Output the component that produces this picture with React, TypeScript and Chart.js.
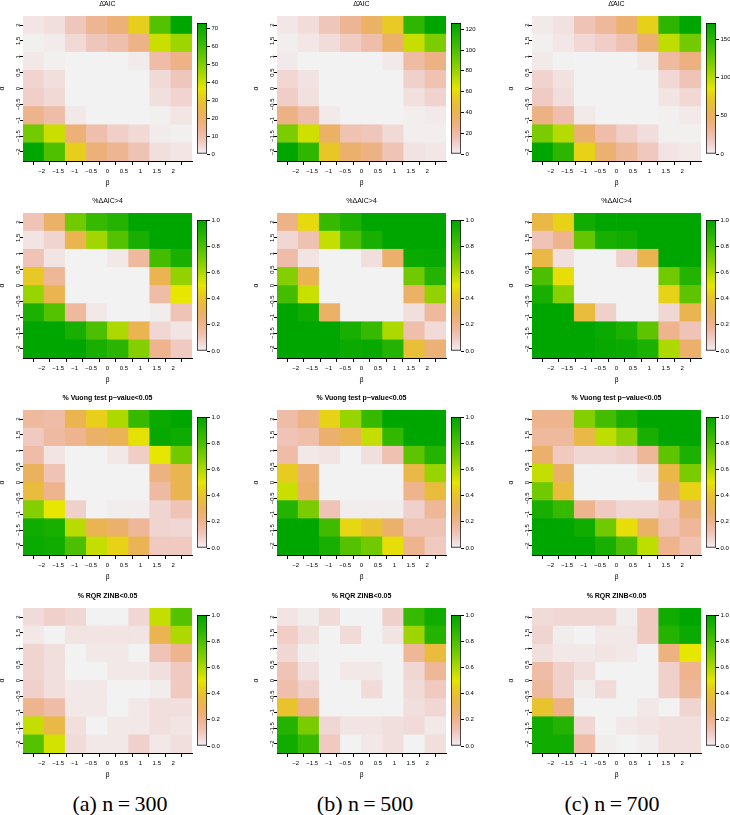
import React, { useEffect, useRef } from "react";
import { Chart, registerables } from "chart.js";
Chart.register(...registerables);

// ---------- data ----------
const betaTicks = [-2, -1.5, -1, -0.5, 0, 0.5, 1, 1.5, 2];
const betaTickLabels = ["−2", "−1.5", "−1", "−0.5", "0", "0.5", "1", "1.5", "2"];
const alphaTicks = [-2, -1.5, -1, -0.5, 0, 0.5, 1, 1.5, 2];
const alphaTickLabels = ["−2", "−1.5", "−1", "−0.5", "0", "0.5", "1", "1.5", "2"];
const cellColumns = ["c1", "c2", "c3", "c4", "c5", "c6", "c7", "c8"];

const rowTitles = ["Δ\u0304AIC", "%ΔAIC>4", "% Vuong test p−value<0.05", "% RQR ZINB<0.05"];
const captions = ["(a) n\u2009=\u2009300", "(b) n\u2009=\u2009500", "(c) n\u2009=\u2009700"];

const aicTicks300 = [0, 10, 20, 30, 40, 50, 60, 70];
const aicTicks500 = [0, 20, 40, 60, 80, 100, 120];
const aicTicks700 = [0, 50, 100, 150];
const aicMax = [73, 126, 171];
const propTicks = [0, 0.2, 0.4, 0.6, 0.8, 1];
const propTickLabels = ["0.0", "0.2", "0.4", "0.6", "0.8", "1.0"];

// matrices: first row = top (α = 2), columns left→right (β = −2 … 2)
const aic300 = [
  [2, 3, 8, 14, 18, 32, 57, 73],
  [0.5, 1, 4, 8, 10, 16, 40, 46],
  [1.5, 0.5, 0, 0, 0, 1, 11, 16],
  [5, 3, 0, 0, 0, 0, 4, 8],
  [6, 4, 0, 0, 0, 0, 3, 5],
  [15, 11, 1.5, 0, 0, 0, 0.5, 2],
  [52, 40, 18, 10, 6, 4, 1, 0.5],
  [73, 58, 32, 18, 14, 9, 3, 2],
];
const aic500 = [
  [3, 6, 14, 24, 36, 53, 110, 126],
  [1, 3, 6, 12, 18, 35, 70, 88],
  [2, 0, 0, 0, 0, 2, 20, 28],
  [8, 4, 0, 0, 0, 0, 10, 16],
  [11, 5, 0, 0, 0, 0, 5, 9],
  [28, 18, 2, 0, 0, 0, 1, 2],
  [88, 68, 36, 16, 14, 7, 1, 1],
  [126, 110, 52, 34, 28, 15, 4, 3],
];
const aic700 = [
  [3, 6, 20, 30, 45, 76, 150, 171],
  [1, 4, 10, 15, 22, 45, 97, 122],
  [3, 0.5, 0, 0, 0, 3, 28, 40],
  [12, 6, 0, 0, 0, 0, 10, 20],
  [16, 8, 0, 0, 0, 0, 5, 10],
  [38, 24, 3, 0, 0, 0, 1, 3],
  [120, 100, 45, 25, 14, 8, 1, 1],
  [171, 150, 77, 45, 30, 18, 5, 3],
];
const pct300 = [
  [0.12, 0.28, 0.72, 0.85, 0.9, 1, 1, 1],
  [0.03, 0.07, 0.33, 0.62, 0.78, 0.93, 1, 1],
  [0.12, 0.03, 0, 0, 0.02, 0.17, 0.82, 0.93],
  [0.42, 0.18, 0, 0, 0, 0, 0.33, 0.65],
  [0.64, 0.33, 0, 0, 0, 0, 0.15, 0.5],
  [0.92, 0.78, 0.17, 0.02, 0, 0, 0.01, 0.12],
  [1, 1, 0.93, 0.8, 0.6, 0.33, 0.06, 0.03],
  [1, 1, 1, 0.93, 0.88, 0.68, 0.2, 0.1],
];
const pct500 = [
  [0.22, 0.47, 0.85, 0.92, 1, 1, 1, 1],
  [0.06, 0.13, 0.56, 0.8, 0.93, 1, 1, 1],
  [0.15, 0.03, 0, 0, 0.04, 0.27, 0.97, 0.98],
  [0.68, 0.33, 0, 0, 0, 0, 0.72, 0.9],
  [0.82, 0.55, 0, 0, 0, 0, 0.28, 0.65],
  [1, 0.96, 0.28, 0, 0, 0, 0.04, 0.17],
  [1, 1, 1, 0.93, 0.85, 0.6, 0.14, 0.05],
  [1, 1, 1, 0.97, 0.98, 0.9, 0.38, 0.25],
];
const pct700 = [
  [0.35, 0.45, 0.95, 1, 1, 1, 1, 1],
  [0.12, 0.2, 0.75, 0.93, 0.95, 1, 1, 1],
  [0.35, 0.04, 0, 0, 0.08, 0.33, 1, 1],
  [0.8, 0.48, 0, 0, 0, 0, 0.72, 0.9],
  [0.93, 0.67, 0, 0, 0, 0, 0.45, 0.76],
  [1, 1, 0.37, 0.08, 0, 0, 0.06, 0.33],
  [1, 1, 1, 0.97, 0.92, 0.76, 0.2, 0.12],
  [1, 1, 1, 0.98, 0.97, 0.92, 0.6, 0.27],
];
const vu300 = [
  [0.17, 0.15, 0.33, 0.44, 0.6, 0.85, 0.97, 1],
  [0.1, 0.16, 0.2, 0.28, 0.32, 0.49, 0.98, 0.96],
  [0.15, 0.03, 0, 0, 0.02, 0.09, 0.5, 0.72],
  [0.3, 0.12, 0, 0, 0, 0, 0.23, 0.33],
  [0.37, 0.2, 0, 0, 0, 0, 0.16, 0.33],
  [0.68, 0.5, 0.08, 0, 0.01, 0.01, 0.07, 0.12],
  [0.95, 0.93, 0.58, 0.33, 0.27, 0.18, 0.07, 0.06],
  [0.97, 0.95, 0.8, 0.56, 0.45, 0.32, 0.1, 0.1],
];
const vu500 = [
  [0.15, 0.22, 0.45, 0.64, 0.85, 1, 1, 1],
  [0.12, 0.14, 0.27, 0.33, 0.56, 0.86, 1, 1],
  [0.15, 0.02, 0.03, 0, 0.04, 0.13, 0.76, 0.9],
  [0.43, 0.25, 0, 0, 0, 0, 0.35, 0.64],
  [0.55, 0.27, 0, 0, 0, 0, 0.2, 0.37],
  [0.9, 0.7, 0.12, 0.01, 0.01, 0.01, 0.08, 0.18],
  [1, 1, 0.83, 0.46, 0.4, 0.27, 0.12, 0.12],
  [1, 1, 0.93, 0.78, 0.72, 0.48, 0.2, 0.1],
];
const vu700 = [
  [0.2, 0.2, 0.68, 0.82, 0.93, 1, 1, 1],
  [0.17, 0.17, 0.35, 0.57, 0.67, 0.93, 1, 1],
  [0.27, 0.1, 0.06, 0.06, 0.08, 0.18, 0.76, 0.92],
  [0.56, 0.28, 0, 0, 0, 0.02, 0.35, 0.7],
  [0.72, 0.37, 0, 0, 0, 0, 0.27, 0.45],
  [0.93, 0.85, 0.2, 0.1, 0.06, 0.06, 0.1, 0.25],
  [1, 1, 0.95, 0.72, 0.48, 0.28, 0.12, 0.18],
  [1, 1, 1, 0.93, 0.8, 0.57, 0.2, 0.13],
];
const rqr300 = [
  [0.05, 0.08, 0.06, 0, 0, 0.06, 0.56, 0.78],
  [0.02, 0, 0.03, 0.03, 0.03, 0.03, 0.33, 0.6],
  [0.07, 0.04, 0, 0.02, 0.02, 0, 0.12, 0.2],
  [0.07, 0.04, 0, 0, 0.02, 0.02, 0.04, 0.1],
  [0.08, 0.04, 0.02, 0.02, 0, 0, 0.01, 0.1],
  [0.2, 0.15, 0.02, 0.02, 0, 0.02, 0.04, 0.04],
  [0.56, 0.35, 0.04, 0, 0.02, 0.02, 0.04, 0.03],
  [0.78, 0.53, 0.05, 0.02, 0.02, 0.08, 0.02, 0.04],
];
const rqr500 = [
  [0.03, 0.01, 0.05, 0, 0, 0.08, 0.85, 0.95],
  [0.09, 0.04, 0, 0.05, 0, 0.03, 0.63, 0.9],
  [0.06, 0.01, 0, 0, 0, 0, 0.18, 0.37],
  [0.12, 0.04, 0, 0.02, 0.02, 0, 0.06, 0.18],
  [0.14, 0.08, 0, 0, 0.05, 0, 0.05, 0.1],
  [0.4, 0.2, 0, 0, 0, 0, 0.04, 0.06],
  [0.9, 0.7, 0.06, 0.03, 0.03, 0.04, 0.05, 0.02],
  [0.95, 0.85, 0.1, 0, 0.02, 0.04, 0, 0.04],
];
const rqr700 = [
  [0.05, 0.06, 0.06, 0.06, 0.01, 0.1, 0.95, 1],
  [0.07, 0.01, 0, 0.02, 0.02, 0.1, 0.9, 0.97],
  [0.04, 0.02, 0.02, 0.03, 0.02, 0, 0.23, 0.5],
  [0.15, 0.08, 0.04, 0, 0, 0, 0.08, 0.2],
  [0.17, 0.08, 0.01, 0.05, 0, 0, 0.08, 0.18],
  [0.4, 0.22, 0, 0, 0, 0.02, 0, 0.07],
  [0.95, 0.9, 0.06, 0, 0.02, 0.03, 0.04, 0.04],
  [0.95, 0.95, 0.15, 0.01, 0, 0.01, 0.04, 0.04],
];

// ---------- styling / layout ----------
const SANS = "'Liberation Sans', Arial, Helvetica, sans-serif";
const SERIF = "'Liberation Serif', 'DejaVu Serif', serif";
const PLOT_W = 169;
const PLOT_H = 145;
const colLefts = [23, 277, 532];
const rowTops = [16, 213, 410, 608];
const captionCenters = [120, 365, 612];
const AX_LEFT = 25;
const TOP_AREA = 20;
const AX_BOTTOM = 26;
const RIGHT_PAD = 3;
const HM_W = AX_LEFT + PLOT_W + RIGHT_PAD;
const HM_H = TOP_AREA + PLOT_H + AX_BOTTOM;
const CB_W = 33;
const CB_H = PLOT_H - 14 + 12;

// R terrain.colors, reversed: 0 → light grey, 1 → green
function terrainColor(f: number): string {
  const q = Math.min(1, Math.max(0, f));
  const u = 1 - q;
  let h: number, s: number, v: number;
  if (u <= 0.5) {
    const t = u / 0.5;
    h = 120 - 60 * t; s = 1; v = 0.65 + 0.25 * t;
  } else {
    const t = (u - 0.5) / 0.5;
    h = 60 - 60 * t; s = 1 - t; v = 0.9 + 0.05 * t;
  }
  const c = v * s;
  const hp = h / 60;
  const x = c * (1 - Math.abs((hp % 2) - 1));
  let r1 = 0, g1 = 0;
  if (hp < 1) { r1 = c; g1 = x; } else { r1 = x; g1 = c; }
  const m = v - c;
  return `rgb(${Math.round((r1 + m) * 255)},${Math.round((g1 + m) * 255)},${Math.round(m * 255)})`;
}

// 8 cell centres spread over −2 … 2, so axis spans half a cell beyond
const cellWidth = 4 / (cellColumns.length - 1);
const axisHalf = 2 + cellWidth / 2;

function heatmapConfig(title: string, bold: boolean, matrix: number[][], zmin: number, zmax: number): any {
  const rows = matrix.slice().reverse();
  const datasets = rows.map((row) => ({
    data: row.map(() => 1),
    backgroundColor: row.map((v) => terrainColor((v - zmin) / (zmax - zmin))),
    borderWidth: 0,
    barPercentage: 1,
    categoryPercentage: 1,
  }));
  const tickFont = { family: SANS, size: 6 };
  return {
    type: "bar",
    data: { labels: cellColumns, datasets },
    options: {
      responsive: false,
      animation: false,
      devicePixelRatio: 1,
      layout: { padding: { left: 0, right: RIGHT_PAD, top: 0, bottom: 0 } },
      plugins: {
        legend: { display: false },
        tooltip: { enabled: false },
        title: {
          display: true,
          text: title,
          fullSize: false,
          color: "#000",
          font: { family: SANS, size: 7, weight: bold ? "bold" : "normal", lineHeight: 1 },
          padding: { top: 4.5, bottom: 8.5 },
        },
      },
      scales: {
        x: { type: "category", display: false, stacked: true, offset: true },
        y: { type: "linear", display: false, stacked: true, min: 0, max: rows.length },
        xt: {
          type: "linear",
          position: "bottom",
          min: -axisHalf,
          max: axisHalf,
          afterBuildTicks: (s: any) => { s.ticks = betaTicks.map((v) => ({ value: v })); },
          afterFit: (s: any) => { s.height = AX_BOTTOM; },
          ticks: { autoSkip: false, maxRotation: 0, callback: (_v: any, i: number) => betaTickLabels[i], font: tickFont, color: "#000", padding: 3 },
          grid: { drawOnChartArea: false, drawTicks: true, tickLength: 4, color: "#000" },
          border: { display: true, color: "#000" },
          title: { display: true, text: "β", color: "#000", font: { family: SANS, size: 7 }, padding: 0 },
        },
        yt: {
          type: "linear",
          position: "left",
          min: -axisHalf,
          max: axisHalf,
          afterBuildTicks: (s: any) => { s.ticks = alphaTicks.map((v) => ({ value: v })); },
          afterFit: (s: any) => { s.width = AX_LEFT; },
          ticks: { autoSkip: false, minRotation: 90, maxRotation: 90, crossAlign: "center", callback: (_v: any, i: number) => alphaTickLabels[i], font: tickFont, color: "#000", padding: -3.9 },
          grid: { drawOnChartArea: false, drawTicks: true, tickLength: 3, color: "#000" },
          border: { display: true, color: "#000" },
          title: { display: true, text: "α", color: "#000", font: { family: SANS, size: 7 }, padding: 0 },
        },
      },
    },
  };
}

function colorbarConfig(zmin: number, zmax: number, ticks: number[], labels: string[]): any {
  return {
    type: "bar",
    data: {
      labels: [""],
      datasets: [
        {
          data: [[zmin, zmax]],
          backgroundColor: (c: any) => {
            const chart = c.chart;
            const ys = chart.scales && chart.scales.y;
            if (!ys || !chart.chartArea) return "#ccc";
            const y0 = ys.getPixelForValue(zmin);
            const y1 = ys.getPixelForValue(zmax);
            if (!isFinite(y0) || !isFinite(y1)) return "#ccc";
            const g = chart.ctx.createLinearGradient(0, y0, 0, y1);
            for (let i = 0; i <= 40; i++) g.addColorStop(i / 40, terrainColor(i / 40));
            return g;
          },
          borderColor: "#000",
          borderWidth: 1,
          borderSkipped: false,
          barPercentage: 1,
          categoryPercentage: 1,
        },
      ],
    },
    options: {
      responsive: false,
      animation: false,
      devicePixelRatio: 1,
      layout: { padding: { left: 1, right: 0, top: 6, bottom: 6 } },
      plugins: { legend: { display: false }, tooltip: { enabled: false }, title: { display: false } },
      scales: {
        x: { display: false },
        y: {
          position: "right",
          min: zmin,
          max: zmax,
          afterBuildTicks: (s: any) => { s.ticks = ticks.map((v) => ({ value: v })); },
          afterFit: (s: any) => { s.width = CB_W - 11; },
          ticks: { autoSkip: false, callback: (_v: any, i: number) => labels[i], font: { family: SANS, size: 6 }, color: "#000", padding: 1.5 },
          grid: { drawOnChartArea: false, drawTicks: true, tickLength: 3, color: "#000" },
          border: { display: false },
        },
      },
    },
  };
}

type PanelProps = {
  title: string; bold: boolean; matrix: number[][]; zmin: number; zmax: number;
  ticks: number[]; labels: string[]; left: number; top: number;
};

function Panel(p: PanelProps) {
  const hRef = useRef<HTMLCanvasElement>(null);
  const cRef = useRef<HTMLCanvasElement>(null);
  useEffect(() => {
    const h = new Chart(hRef.current as HTMLCanvasElement, heatmapConfig(p.title, p.bold, p.matrix, p.zmin, p.zmax));
    const c = new Chart(cRef.current as HTMLCanvasElement, colorbarConfig(p.zmin, p.zmax, p.ticks, p.labels));
    return () => { h.destroy(); c.destroy(); };
  }, []);
  return (
    <>
      <canvas ref={hRef} width={HM_W} height={HM_H}
        style={{ position: "absolute", left: p.left - AX_LEFT, top: p.top - TOP_AREA, width: HM_W, height: HM_H }} />
      <canvas ref={cRef} width={CB_W} height={CB_H}
        style={{ position: "absolute", left: p.left + PLOT_W + 5 - 1, top: p.top + 7 - 6, width: CB_W, height: CB_H }} />
    </>
  );
}

export default function App() {
  const aicMats = [aic300, aic500, aic700];
  const aicTickSets = [aicTicks300, aicTicks500, aicTicks700];
  const grid = [
    [pct300, pct500, pct700],
    [vu300, vu500, vu700],
    [rqr300, rqr500, rqr700],
  ];
  const panels: PanelProps[] = [];
  for (let c = 0; c < 3; c++) {
    panels.push({
      title: rowTitles[0], bold: false, matrix: aicMats[c], zmin: 0, zmax: aicMax[c],
      ticks: aicTickSets[c], labels: aicTickSets[c].map((v) => String(v)),
      left: colLefts[c], top: rowTops[0],
    });
  }
  for (let r = 0; r < 3; r++) {
    for (let c = 0; c < 3; c++) {
      panels.push({
        title: rowTitles[r + 1], bold: r > 0, matrix: grid[r][c], zmin: 0, zmax: 1,
        ticks: propTicks, labels: propTickLabels, left: colLefts[c], top: rowTops[r + 1],
      });
    }
  }
  return (
    <div style={{ position: "absolute", left: 0, top: 0, width: 730, height: 815, background: "#fff", overflow: "hidden" }}>
      {panels.map((p, i) => <Panel key={i} {...p} />)}
      {captions.map((t, i) => (
        <div key={t} style={{
          position: "absolute", left: captionCenters[i] - 100, width: 200, top: 792, textAlign: "center",
          fontFamily: SERIF, fontSize: 22, lineHeight: "24px", color: "#000", whiteSpace: "nowrap",
        }}>{t}</div>
      ))}
    </div>
  );
}
